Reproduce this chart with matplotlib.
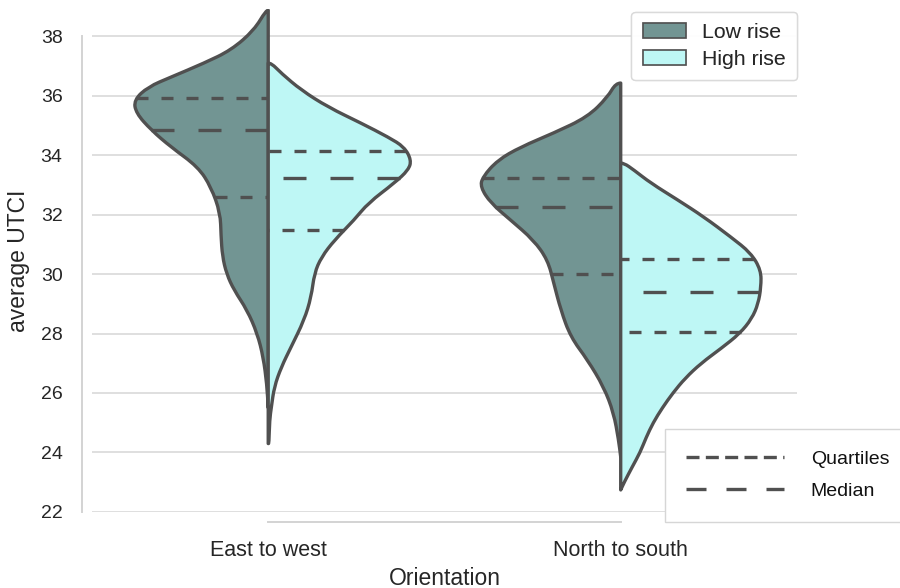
import numpy as np
import matplotlib
matplotlib.use('Agg')
import matplotlib.pyplot as plt
from matplotlib.path import Path
from matplotlib.patches import PathPatch, Patch
from matplotlib.lines import Line2D

plt.rcParams['font.family'] = ['Liberation Sans', 'DejaVu Sans']

orientations = ['East to west', 'North to south']
groups = ['Low rise', 'High rise']

# violin outlines: UTCI level and half width (x units)
ew_low_y = [38.87, 38.2, 37.53, 37.09, 36.62, 36.29, 35.85, 35.41, 34.84, 34.27, 33.6, 32.92,
            32.05, 31.3, 30.6, 30.0, 29.46, 28.79, 28.0, 27.2, 26.3, 25.5]
ew_low_w = [0.006, 0.040, 0.105, 0.182, 0.276, 0.341, 0.381, 0.375, 0.332, 0.276, 0.199, 0.162,
            0.136, 0.134, 0.130, 0.118, 0.097, 0.060, 0.031, 0.014, 0.004, 0.0]
ew_high_y = [37.09, 36.75, 36.18, 35.61, 35.07, 34.6, 34.27, 33.83, 33.5, 33.06, 32.39, 31.82,
             31.14, 30.57, 30.03, 29.23, 28.45, 27.55, 26.87, 26.2, 25.53, 25.1, 24.3]
ew_high_w = [0.009, 0.037, 0.094, 0.170, 0.264, 0.341, 0.386, 0.406, 0.398, 0.358, 0.284, 0.244,
             0.188, 0.151, 0.131, 0.122, 0.102, 0.065, 0.037, 0.017, 0.009, 0.004, 0.002]
ns_low_y = [36.42, 35.95, 35.28, 34.74, 34.27, 33.83, 33.26, 32.92, 32.39, 31.82, 31.14, 30.47,
            29.7, 28.79, 27.88, 27.11, 26.2, 25.33, 24.42, 23.85]
ns_low_w = [0.014, 0.037, 0.094, 0.190, 0.284, 0.349, 0.392, 0.398, 0.369, 0.313, 0.247, 0.207,
            0.190, 0.170, 0.142, 0.094, 0.048, 0.020, 0.006, 0.0]
ns_high_y = [33.73, 33.5, 33.06, 32.49, 31.92, 31.24, 30.71, 30.13, 29.56, 29.0, 28.5, 28.0,
             27.5, 27.0, 26.5, 26.0, 25.5, 25.0, 24.5, 24.0, 23.5, 23.0, 22.74]
ns_high_w = [0.009, 0.037, 0.085, 0.162, 0.236, 0.313, 0.369, 0.398, 0.398, 0.390, 0.372, 0.338,
             0.285, 0.228, 0.183, 0.148, 0.118, 0.092, 0.072, 0.055, 0.032, 0.010, 0.0]

# quartiles (Q1, median, Q3)
ew_low_q = [32.59, 34.84, 35.92]
ew_high_q = [31.48, 33.24, 34.14]
ns_low_q = [30.0, 32.25, 33.24]
ns_high_q = [28.06, 29.4, 30.51]

colors = {'Low rise': '#729593', 'High rise': '#bef7f5'}
edge = '#505050'
lw = 2.4

violins = [
    (0, 'Low rise', ew_low_y, ew_low_w, ew_low_q),
    (0, 'High rise', ew_high_y, ew_high_w, ew_high_q),
    (1, 'Low rise', ns_low_y, ns_low_w, ns_low_q),
    (1, 'High rise', ns_high_y, ns_high_w, ns_high_q),
]


def smooth_path(xs, ys):
    # quadratic bezier through midpoints so the outline is not jagged
    pts = list(zip(xs, ys))
    verts = [pts[0]]
    codes = [Path.MOVETO]
    for i in range(1, len(pts) - 1):
        mid = ((pts[i][0] + pts[i + 1][0]) / 2, (pts[i][1] + pts[i + 1][1]) / 2)
        verts += [pts[i], mid]
        codes += [Path.CURVE3, Path.CURVE3]
    verts.append(pts[-1])
    codes.append(Path.LINETO)
    verts.append(pts[0])
    codes.append(Path.CLOSEPOLY)
    return Path(verts, codes)


fig = plt.figure(figsize=(9, 5.88), dpi=100)
ax = fig.add_axes([0.1022, 0.1293, 0.7833, 0.8554])

for pos, grp, ys, ws, qs in violins:
    ys = np.array(ys)
    ws = np.array(ws)
    sign = -1 if grp == 'Low rise' else 1
    xs = np.r_[pos, pos + sign * ws, pos]
    yy = np.r_[ys[0], ys, ys[-1]]
    patch = PathPatch(smooth_path(xs, yy), facecolor=colors[grp], edgecolor=edge,
                      linewidth=lw, zorder=2, joinstyle='round')
    ax.add_patch(patch)
    for k, q in enumerate(qs):
        w = np.interp(q, ys[::-1], ws[::-1])
        dashes = (6.9, 7.2) if k == 1 else (3.6, 3.9)
        ax.plot([pos + sign * w, pos], [q, q], color=edge, lw=lw, dashes=dashes,
                solid_capstyle='butt', dash_capstyle='butt', zorder=3)

ax.set_xlim(-0.5, 1.5)
ax.set_ylim(22, 38.91)
ax.set_yticks(np.arange(22, 39, 2))
ax.set_xticks([0, 1])
ax.set_xticklabels(orientations)

ax.set_axisbelow(True)
ax.yaxis.grid(True, color='#d6d6d6', lw=1.1)
ax.xaxis.grid(False)
for s in ['top', 'right']:
    ax.spines[s].set_visible(False)
for s in ['left', 'bottom']:
    ax.spines[s].set_color('#d3d3d3')
    ax.spines[s].set_linewidth(1.4)
    ax.spines[s].set_position(('outward', 7.2))
ax.spines['left'].set_bounds(22, 38)
ax.spines['bottom'].set_bounds(0, 1)

ax.tick_params(axis='y', length=0, pad=14, labelsize=14, labelcolor='#262626')
ax.tick_params(axis='x', length=0, pad=13, labelsize=15.5, labelcolor='#262626')
ax.set_ylabel('average UTCI', fontsize=16.5, color='#262626', labelpad=8)
ax.set_xlabel('Orientation', fontsize=16.5, color='#262626', labelpad=4)

# legend for the groups
handles = [Patch(facecolor=colors[g], edgecolor=edge, linewidth=1.2, label=g) for g in groups]
leg1 = ax.legend(handles=handles, loc='upper right', bbox_to_anchor=(1.0, 0.995),
                 fontsize=15.3, frameon=True, fancybox=True, edgecolor='#d6d6d6',
                 framealpha=0.8, labelspacing=0.35, borderpad=0.55, borderaxespad=0.0,
                 handletextpad=0.75)
for t in leg1.get_texts():
    t.set_color('#262626')
ax.add_artist(leg1)

# legend for the inner lines
line_handles = [
    Line2D([], [], color=edge, lw=lw, dashes=(3.9, 1.9), label='Quartiles'),
    Line2D([], [], color=edge, lw=lw, dashes=(6.0, 6.0), label='Median'),
]
leg2 = fig.legend(handles=line_handles, loc='upper left', bbox_to_anchor=(665 / 900, 1 - 429 / 588),
                  fontsize=14, frameon=True, fancybox=False, edgecolor='#d6d6d6',
                  framealpha=1.0, handlelength=5.0, handletextpad=1.4, labelspacing=0.75,
                  borderpad=1.1, borderaxespad=0.0)
for t in leg2.get_texts():
    t.set_color('#111111')

fig.savefig('out.png', dpi=100)
